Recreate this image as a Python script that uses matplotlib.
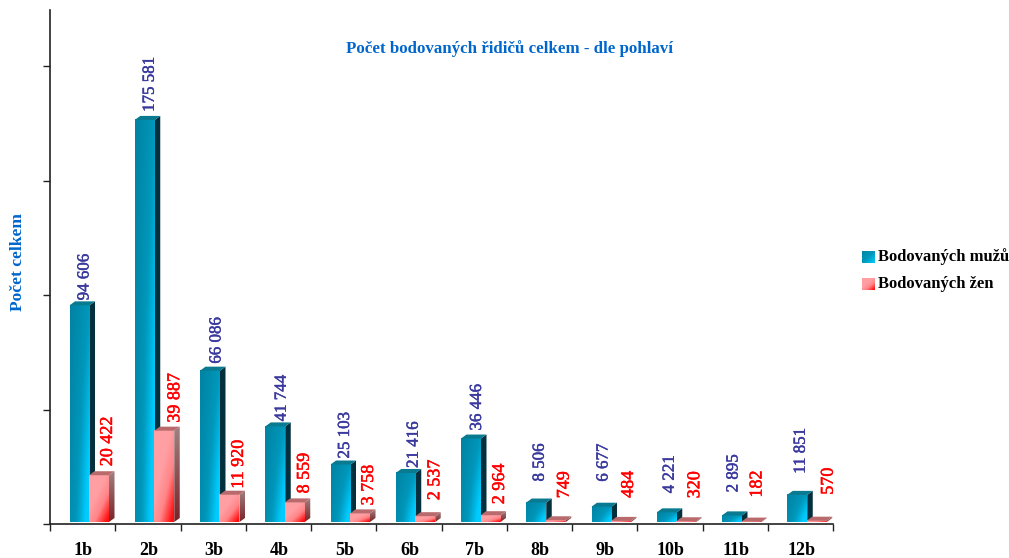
import numpy as np
import matplotlib
matplotlib.use("Agg")
import matplotlib.pyplot as plt
import matplotlib.patheffects as pe
from matplotlib.colors import LinearSegmentedColormap
from matplotlib.patches import Polygon

plt.rcParams['font.family'] = ['Liberation Serif', 'DejaVu Serif']
plt.rcParams['font.weight'] = 'bold'

categories = ["1b", "2b", "3b", "4b", "5b", "6b", "7b", "8b", "9b", "10b", "11b", "12b"]
muzi = [94606, 175581, 66086, 41744, 25103, 21416, 36446, 8506, 6677, 4221, 2895, 11851]
zeny = [20422, 39887, 11920, 8559, 3758, 2537, 2964, 749, 484, 320, 182, 570]
series_names = ["Bodovaných mužů", "Bodovaných žen"]

# label placement in pixels, the original chart has them hand moved
men_gap = [5, 8, 7, 5, 6, 5, 8, 21, 25, 19, 23, 21]
men_dx = [15, 15, 16.5, 16.5, 14.5, 18, 16, 13.5, 12, 13, 11.5, 13.5]
women_gap = [9, 8, 6, 9, 8, 16, 11, 22, 23, 23, 24, 26]
women_dx = [18.5, 20.5, 19, 19.5, 18.5, 19.5, 19, 18.5, 17.5, 18.5, 15.5, 21.5]

W, H = 1009, 558
fig = plt.figure(figsize=(W / 100, H / 100), dpi=100)
ax = fig.add_axes([50 / W, 1 - 524.3 / H, 783 / W, 514.3 / H])
ymax = 50000 * 514.3 / 114.5
ax.set_xlim(0, 12)
ax.set_ylim(0, ymax)

px_x = 12 / 783
px_y = ymax / 514.3
bar_w = 20 * px_x
dep_x = 5.5 * px_x
dep_y = 4 * px_y
lift = 2.3 * px_y

men_cmap = LinearSegmentedColormap.from_list("m", ["#0084a4", "#0098bc", "#00ccff"])
women_cmap = LinearSegmentedColormap.from_list("w", ["#ff9fa3", "#ff8588", "#ff1010"])
xx, yy = np.meshgrid(np.linspace(0, 1, 30), np.linspace(0, 1, 60))
men_grad = np.clip(xx ** 1.2 * (0.5 + 0.5 * yy) + 0.25 * yy, 0, 1)
# yy runs top to bottom, red sits in the lower right corner
women_grad = np.clip((xx * 0.8 + yy * 0.9 - 0.7) / 0.9, 0, 1) ** 0.9
side_grad = np.linspace(0, 1, 40).reshape(-1, 1)


def draw_bar(x, val, cmap, grad, side_cmap, top_col, z):
    y0, y1 = lift, lift + val
    ax.imshow(grad, cmap=cmap, vmin=0, vmax=1, extent=(x, x + bar_w, y0, y1),
              aspect='auto', origin='upper', zorder=z, interpolation='bilinear')
    side = Polygon([(x + bar_w, y0), (x + bar_w + dep_x, y0 + dep_y),
                    (x + bar_w + dep_x, y1 + dep_y), (x + bar_w, y1)],
                   closed=True, facecolor='none', edgecolor='none', zorder=z)
    ax.add_patch(side)
    im = ax.imshow(side_grad, cmap=side_cmap, vmin=0, vmax=1,
                   extent=(x + bar_w, x + bar_w + dep_x, y0, y1 + dep_y),
                   aspect='auto', origin='upper', zorder=z, interpolation='bilinear')
    im.set_clip_path(side)
    ax.add_patch(Polygon([(x, y1), (x + bar_w, y1), (x + bar_w + dep_x, y1 + dep_y),
                          (x + dep_x, y1 + dep_y)],
                         closed=True, facecolor=top_col, edgecolor='none', zorder=z))


def label(x, val, gap, txt_col, size):
    t = ax.annotate(f"{val:,}".replace(",", " "), (x, lift + val),
                    xytext=(0, gap * 0.72), textcoords='offset points', rotation=90,
                    ha='center', va='bottom', color=txt_col, fontsize=size,
                    fontweight='normal', zorder=50)
    t.set_path_effects([pe.withStroke(linewidth=0.35, foreground=txt_col)])


men_side = LinearSegmentedColormap.from_list("ms", ["#04303e", "#04303e"])
women_side = LinearSegmentedColormap.from_list("ws", ["#a08080", "#7a2428"])

for i in range(len(categories)):
    xm = i + 19.5 * px_x
    xz = i + 39 * px_x
    draw_bar(xm, muzi[i], men_cmap, men_grad, men_side, "#0a7a90", 2 + i * 2)
    draw_bar(xz, zeny[i], women_cmap, women_grad, women_side, "#b86a6c", 3 + i * 2)
    label(xm + men_dx[i] * px_x, muzi[i], men_gap[i], "#3a3a9e", 12.2)
    label(xz + women_dx[i] * px_x, zeny[i], women_gap[i], "#ff0000", 13)

ax.set_xlim(0, 12)
ax.set_ylim(0, ymax)

for s in ['top', 'right']:
    ax.spines[s].set_visible(False)
for s in ['left', 'bottom']:
    ax.spines[s].set_linewidth(1.2)
    ax.spines[s].set_color("#222222")
ax.set_yticks(np.arange(0, 225000, 50000))
ax.set_yticklabels([])
ax.set_xticks(np.arange(0, 13))
ax.set_xticklabels([])
ax.tick_params(axis='both', length=5, width=1, color="#222222", direction='out')

for i, c in enumerate(categories):
    ax.text(i + 0.51, -26 * px_y, c, ha='center', va='center', fontsize=13, color="black")

fig.text(509 / W, 1 - 49 / H, "Počet bodovaných řidičů celkem - dle pohlaví", ha='center', va='center',
         fontsize=12.2, color="#0066cc")
fig.text(18.5 / W, 1 - 262 / H, "Počet celkem", rotation=90, ha='center', va='center',
         fontsize=12.6, color="#0066cc")

# legend
for name, cmap, grad, yc in zip(series_names, [men_cmap, women_cmap], [(xx + yy) / 2, women_grad], [257, 284]):
    la = fig.add_axes([862 / W, 1 - (yc + 6) / H, 12 / W, 12 / H])
    la.imshow(grad, cmap=cmap, vmin=0, vmax=1, aspect='auto')
    la.axis('off')
    fig.text(878 / W, 1 - yc / H, name, ha='left', va='center', fontsize=12, color="black")

fig.savefig("out.png", dpi=100)
